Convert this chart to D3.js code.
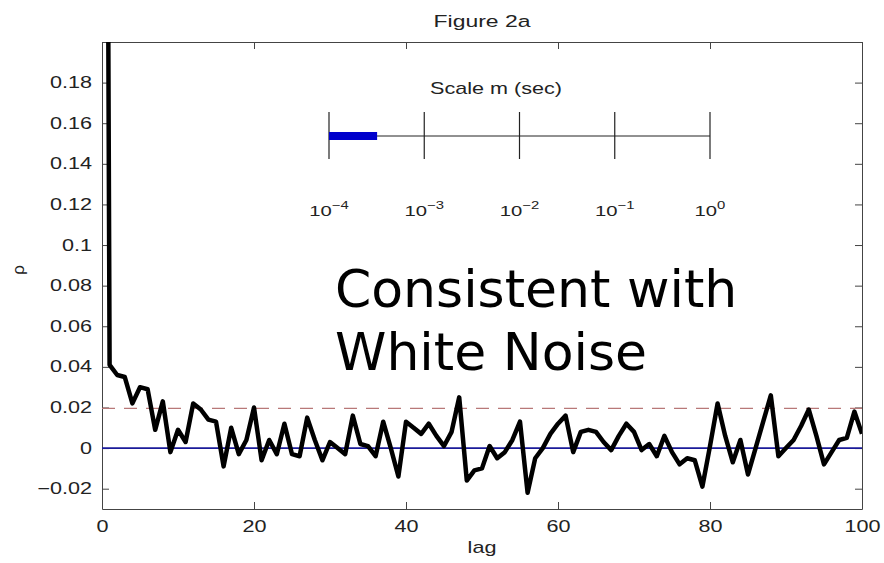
<!DOCTYPE html>
<html>
<head>
<meta charset="utf-8">
<script src="https://cdn.jsdelivr.net/npm/d3@7"></script>
<style>
  body { margin: 0; background: #fff; }
  svg { display: block; }
  .mat text { font-family: "Liberation Sans", Arial, sans-serif; fill: #222; }
</style>
</head>
<body>
<svg id="chart" width="884" height="563"></svg>
<script>
// autocorrelation rho for lag 0..100
const rho = [
  1.0, 0.041, 0.036, 0.035, 0.022, 0.030, 0.029, 0.009, 0.023, -0.002,
  0.009, 0.003, 0.022, 0.019, 0.014, 0.013, -0.009, 0.010, -0.003, 0.004,
  0.020, -0.006, 0.004, -0.003, 0.012, -0.003, -0.004, 0.015, 0.004, -0.006,
  0.003, 0.000, -0.003, 0.016, 0.002, 0.001, -0.004, 0.013, 0.000, -0.014,
  0.013, 0.010, 0.007, 0.012, 0.006, 0.001, 0.008, 0.025, -0.016, -0.011,
  -0.010, 0.001, -0.005, -0.002, 0.004, 0.013, -0.022, -0.005, 0.000, 0.007,
  0.012, 0.016, -0.002, 0.008, 0.009, 0.008, 0.003, -0.001, 0.006, 0.012,
  0.008, -0.001, 0.002, -0.004, 0.006, -0.002, -0.008, -0.005, -0.006, -0.019,
  0.001, 0.022, 0.006, -0.007, 0.004, -0.013, 0.000, 0.013, 0.026, -0.004,
  0.000, 0.004, 0.011, 0.019, 0.006, -0.008, -0.002, 0.004, 0.005, 0.018,
  0.007
];
const lags = d3.range(rho.length);
const xTicks = [0, 20, 40, 60, 80, 100];
const yTicks = [-0.02, 0, 0.02, 0.04, 0.06, 0.08, 0.1, 0.12, 0.14, 0.16, 0.18];
const bound = 0.0196;

// inset: time scale m
const scaleTicks = [1e-4, 1e-3, 1e-2, 1e-1, 1];
const scaleExp = ["\u22124", "\u22123", "\u22122", "\u22121", "0"];
const scaleBar = [1e-4, 3.2e-4];

const title = "Figure 2a";
const note = ["Consistent with", "White Noise"];

const width = 884, height = 563;
const margin = {top: 42, right: 22, bottom: 54, left: 102};
const sx = 1.35; // matlab text looks stretched sideways

const svg = d3.select("#chart");
const g = svg.append("g").attr("class", "mat");

const x = d3.scaleLinear().domain([0, 100]).range([margin.left, width - margin.right]);
const y = d3.scaleLinear().domain([-0.03, 0.2]).range([height - margin.bottom, margin.top]);

svg.append("clipPath").attr("id", "plotclip")
  .append("rect")
  .attr("x", x(0)).attr("y", y(0.2))
  .attr("width", x(100) - x(0)).attr("height", y(-0.03) - y(0.2));

// axes, matlab style box with inward ticks
const fmt = d => d === 0 ? "0" : d3.format("~g")(d).replace("\u2212", "\u2212");

const bottom = g.append("g")
  .attr("transform", `translate(0,${y(-0.03)})`)
  .call(d3.axisBottom(x).tickValues(xTicks).tickSizeInner(-7).tickSizeOuter(0).tickPadding(12));
bottom.selectAll("text").attr("font-size", 16).attr("transform", `scale(${sx},1)`);

const left = g.append("g")
  .attr("transform", `translate(${x(0)},0)`)
  .call(d3.axisLeft(y).tickValues(yTicks).tickFormat(fmt).tickSizeInner(-7).tickSizeOuter(0).tickPadding(0));
left.selectAll("text").attr("font-size", 16).attr("x", -10 / sx).attr("transform", `scale(${sx},1)`);

g.append("g")
  .attr("transform", `translate(0,${y(0.2)})`)
  .call(d3.axisTop(x).tickValues(xTicks).tickSizeInner(-7).tickSizeOuter(0).tickFormat(""));
g.append("g")
  .attr("transform", `translate(${x(100)},0)`)
  .call(d3.axisRight(y).tickValues(yTicks).tickSizeInner(-7).tickSizeOuter(0).tickFormat(""));

g.selectAll(".domain").attr("stroke", "#444");
g.selectAll(".tick line").attr("stroke", "#444");

// reference lines
const plot = svg.append("g").attr("clip-path", "url(#plotclip)");
plot.append("line")
  .attr("x1", x(0)).attr("x2", x(100))
  .attr("y1", y(bound)).attr("y2", y(bound))
  .attr("stroke", "#b87878").attr("stroke-width", 1.2)
  .attr("stroke-dasharray", "13,9");
plot.append("line")
  .attr("x1", x(0)).attr("x2", x(100))
  .attr("y1", y(0)).attr("y2", y(0))
  .attr("stroke", "#1a1a99").attr("stroke-width", 1.8);

// the acf curve
const line = d3.line().x((d, i) => x(lags[i])).y(d => y(d));
plot.append("path")
  .datum(rho)
  .attr("d", line)
  .attr("fill", "none")
  .attr("stroke", "#000")
  .attr("stroke-width", 4.5)
  .attr("stroke-linejoin", "round");

// labels
g.append("text")
  .attr("transform", `translate(${(x(0) + x(100)) / 2},27) scale(${sx},1)`)
  .attr("text-anchor", "middle").attr("font-size", 17)
  .text(title);
g.append("text")
  .attr("transform", `translate(${(x(0) + x(100)) / 2},553) scale(${sx},1)`)
  .attr("text-anchor", "middle").attr("font-size", 16)
  .text("lag");
g.append("text")
  .attr("transform", `translate(24,270) rotate(-90)`)
  .attr("text-anchor", "middle").attr("font-size", 17)
  .text("\u03c1");

// inset scale axis
const ix = d3.scaleLog().domain([1e-4, 1]).range([329, 710]);
const iy = 136;
const inset = g.append("g");
inset.append("line")
  .attr("x1", ix(1e-4)).attr("x2", ix(1))
  .attr("y1", iy).attr("y2", iy)
  .attr("stroke", "#222").attr("stroke-width", 1);
inset.selectAll(".itick").data(scaleTicks).join("line")
  .attr("x1", d => ix(d)).attr("x2", d => ix(d))
  .attr("y1", iy - 24).attr("y2", iy + 23)
  .attr("stroke", "#222").attr("stroke-width", 1.2);
inset.append("line")
  .attr("x1", ix(scaleBar[0])).attr("x2", ix(scaleBar[1]))
  .attr("y1", iy).attr("y2", iy)
  .attr("stroke", "#0000cc").attr("stroke-width", 8);
const lab = inset.selectAll(".ilab").data(scaleTicks).join("text")
  .attr("transform", d => `translate(${ix(d)},216) scale(${sx},1)`)
  .attr("text-anchor", "middle").attr("font-size", 15);
lab.append("tspan").text("10");
lab.append("tspan").attr("dy", -7).attr("font-size", 11).text((d, i) => scaleExp[i]);
inset.append("text")
  .attr("transform", `translate(496,94) scale(${sx},1)`)
  .attr("text-anchor", "middle").attr("font-size", 16)
  .text("Scale m (sec)");

// big annotation
svg.selectAll(".note").data(note).join("text")
  .attr("x", 335).attr("y", (d, i) => 307 + i * 63)
  .attr("font-family", "'DejaVu Sans', Verdana, sans-serif")
  .attr("font-size", 52).attr("fill", "#000")
  .text(d => d);
</script>
</body>
</html>
